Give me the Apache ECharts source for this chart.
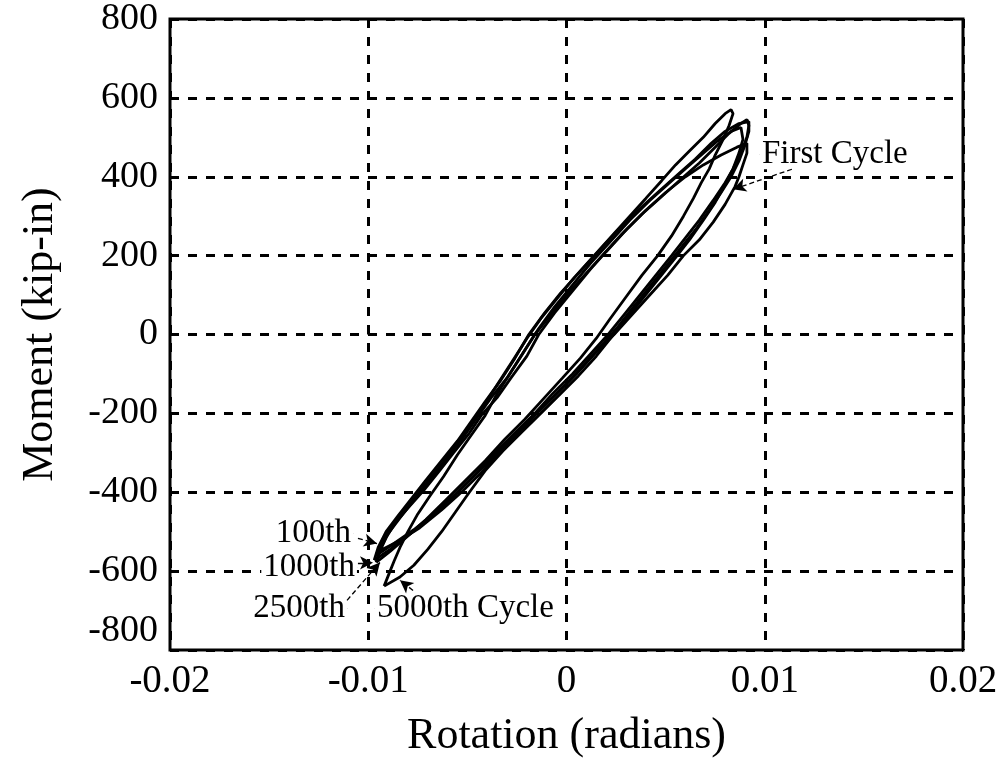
<!DOCTYPE html>
<html>
<head>
<meta charset="utf-8">
<script src="https://cdn.jsdelivr.net/npm/echarts@6/dist/echarts.min.js"></script>
<style>
html,body{margin:0;padding:0;background:#fff;}
#chart{width:1004px;height:763px;}
</style>
</head>
<body>
<div id="chart"></div>
<script>
// Axis ticks
var xTicks = [-0.02, -0.01, 0, 0.01, 0.02];
var yTicks = [-800, -600, -400, -200, 0, 200, 400, 600, 800];

// Hysteresis loops [rotation (rad), moment (kip-in)]
var firstCycle = [
  [-0.0094,-548],[-0.0091,-515],[-0.0086,-475],[-0.0080,-440],[-0.0072,-395],[-0.0064,-345],[-0.0057,-300],
  [-0.0049,-250],[-0.0043,-205],[-0.0035,-160],[-0.0028,-110],[-0.0020,-55],[-0.0014,0],[-0.0006,55],
  [0.0003,110],[0.0012,165],[0.0020,210],[0.0030,265],[0.0040,315],[0.0050,360],[0.0060,400],[0.0069,430],
  [0.0078,455],[0.0086,475],[0.0091,485],
  [0.0091,460],[0.0089,430],[0.0087,400],[0.0085,375],[0.0080,330],[0.0074,285],[0.0067,240],[0.0059,200],
  [0.0051,150],[0.0042,100],[0.0033,50],[0.0024,0],[0.0014,-50],[0.0005,-100],[-0.0005,-150],[-0.0015,-200],
  [-0.0024,-250],[-0.0034,-300],[-0.0043,-350],[-0.0053,-400],[-0.0063,-445],[-0.0074,-490],[-0.0085,-525],
  [-0.0094,-548]
];
var cycle100 = [
  [-0.0096,-560],[-0.0093,-525],[-0.0088,-485],[-0.0082,-450],[-0.0075,-405],[-0.0068,-360],[-0.0060,-310],
  [-0.0052,-260],[-0.0045,-210],[-0.0038,-160],[-0.0030,-110],[-0.0023,-55],[-0.0016,0],[-0.0008,50],
  [0.0000,100],[0.0009,150],[0.0018,200],[0.0028,255],[0.0038,305],[0.0048,350],[0.0058,395],[0.0067,435],
  [0.0075,475],[0.0082,510],[0.0088,535],[0.0091,545],
  [0.0092,530],[0.0091,500],[0.0088,460],[0.0084,420],[0.0080,385],[0.0074,340],[0.0067,290],[0.0060,245],
  [0.0053,200],[0.0045,150],[0.0037,100],[0.0029,50],[0.0021,0],[0.0012,-50],[0.0003,-100],[-0.0007,-150],
  [-0.0016,-200],[-0.0026,-250],[-0.0036,-300],[-0.0046,-355],[-0.0056,-405],[-0.0066,-450],[-0.0077,-495],
  [-0.0087,-530],[-0.0096,-560]
];
var cycle1000 = [
  [-0.0097,-572],[-0.0095,-540],[-0.0091,-500],[-0.0085,-460],[-0.0078,-415],[-0.0071,-370],[-0.0063,-320],
  [-0.0055,-270],[-0.0048,-220],[-0.0041,-170],[-0.0033,-115],[-0.0026,-60],[-0.0019,0],[-0.0011,55],
  [-0.0003,105],[0.0006,155],[0.0015,205],[0.0025,260],[0.0035,310],[0.0046,360],[0.0056,405],[0.0065,445],
  [0.0073,485],[0.0080,515],[0.0087,535],[0.0092,540],
  [0.0092,515],[0.0090,480],[0.0087,440],[0.0083,400],[0.0078,360],[0.0072,315],[0.0065,265],[0.0057,215],
  [0.0049,165],[0.0041,115],[0.0033,65],[0.0026,20],[0.0019,-20],[0.0010,-70],[0.0001,-120],[-0.0009,-170],
  [-0.0018,-215],[-0.0028,-265],[-0.0038,-315],[-0.0048,-365],[-0.0058,-415],[-0.0069,-465],[-0.0080,-510],
  [-0.0089,-545],[-0.0097,-572]
];
var cycle2500 = [
  [-0.0096,-578],[-0.0094,-545],[-0.0090,-505],[-0.0084,-465],[-0.0077,-420],[-0.0070,-375],[-0.0062,-325],
  [-0.0055,-275],[-0.0048,-225],[-0.0041,-175],[-0.0034,-120],[-0.0027,-65],[-0.0020,-10],[-0.0013,40],
  [-0.0005,90],[0.0004,145],[0.0013,195],[0.0022,245],[0.0031,295],[0.0040,345],[0.0048,390],[0.0055,430],
  [0.0062,465],[0.0069,500],[0.0075,535],[0.0080,560],[0.0083,570],
  [0.0084,560],[0.0082,530],[0.0079,495],[0.0075,455],[0.0072,420],[0.0068,385],[0.0064,345],[0.0059,300],
  [0.0053,250],[0.0046,200],[0.0038,150],[0.0030,95],[0.0022,40],[0.0015,-10],[0.0007,-60],[-0.0002,-110],
  [-0.0012,-165],[-0.0021,-215],[-0.0031,-265],[-0.0041,-320],[-0.0051,-370],[-0.0061,-420],[-0.0071,-470],
  [-0.0081,-515],[-0.0089,-550],[-0.0096,-578]
];
var cycle5000 = [
  [-0.0092,-638],[-0.0089,-600],[-0.0087,-575],[-0.0084,-540],[-0.0080,-500],[-0.0075,-455],[-0.0069,-410],
  [-0.0062,-360],[-0.0055,-305],[-0.0048,-255],[-0.0041,-205],[-0.0035,-150],[-0.0028,-95],[-0.0021,-40],
  [-0.0014,15],[-0.0006,70],[0.0003,125],[0.0012,180],[0.0022,235],[0.0032,290],[0.0042,340],[0.0052,385],
  [0.0061,425],[0.0069,460],[0.0076,490],[0.0083,515],[0.0088,525],
  [0.0089,495],[0.0087,460],[0.0084,420],[0.0080,380],[0.0075,335],[0.0069,290],[0.0062,240],[0.0055,195],
  [0.0047,145],[0.0039,95],[0.0031,45],[0.0023,-5],[0.0015,-55],[0.0006,-105],[-0.0003,-150],[-0.0012,-195],
  [-0.0022,-245],[-0.0032,-295],[-0.0041,-345],[-0.0049,-400],[-0.0056,-450],[-0.0063,-500],[-0.0070,-545],
  [-0.0077,-585],[-0.0084,-615],[-0.0092,-638]
];

// Annotations: text, anchor [rotation, moment], alignment
var noteTexts = ['First Cycle', '100th', '1000th', '2500th', '5000th Cycle'];
var noteAnchors = [[0.00976, 457], [-0.01077, -505], [-0.01057, -591], [-0.01107, -694], [-0.00966, -694]];
var noteAligns = ['left', 'right', 'right', 'right', 'left'];
// Arrows: from -> to (head at "to")
var arrowFrom = [[0.01137, 419], [-0.01052, -517], [-0.01052, -579], [-0.01107, -674], [-0.00774, -649]];
var arrowTo = [[0.0084, 368], [-0.00956, -530], [-0.00976, -579], [-0.00941, -578], [-0.0084, -623]];

var FONT = '"Liberation Serif", "Times New Roman", serif';
var chart = echarts.init(document.getElementById('chart'), null, {renderer: 'canvas'});

function loopSeries(name, data) {
  return {
    name: name, type: 'line', data: data, showSymbol: false, symbol: 'none',
    lineStyle: {color: '#000', width: 2.8}, animation: false, z: 3
  };
}

var arrowData = arrowFrom.map(function (f, i) {
  return [{coord: f}, {coord: arrowTo[i]}];
});

var noteData = noteTexts.map(function (t, i) {
  return {name: t, value: noteAnchors[i], label: {align: noteAligns[i]}};
});

var option = {
  animation: false,
  backgroundColor: '#fff',
  grid: {left: 170, right: 41, top: 16, bottom: 113, show: true, borderColor: '#000', borderWidth: 3, containLabel: false},
  xAxis: {
    type: 'value', min: xTicks[0], max: xTicks[xTicks.length - 1], interval: 0.01,
    name: 'Rotation (radians)', nameLocation: 'middle', nameGap: 64,
    nameTextStyle: {fontFamily: FONT, fontSize: 44, color: '#000'},
    axisLine: {show: false},
    axisTick: {show: true, inside: true, length: 8, lineStyle: {color: '#000', width: 3}},
    axisLabel: {fontFamily: FONT, fontSize: 39, color: '#000', margin: 12,
      formatter: function (v) { var r = Math.round(v * 100) / 100; return String(r); }},
    splitLine: {show: true, lineStyle: {color: '#000', width: 3, type: [9, 9]}}
  },
  yAxis: {
    type: 'value', min: yTicks[0], max: yTicks[yTicks.length - 1], interval: 200,
    name: 'Moment (kip-in)', nameLocation: 'middle', nameGap: 108, nameRotate: 90,
    nameTextStyle: {fontFamily: FONT, fontSize: 44, color: '#000'},
    axisLine: {show: false},
    axisTick: {show: true, inside: true, length: 8, lineStyle: {color: '#000', width: 3}},
    axisLabel: {fontFamily: FONT, fontSize: 38, color: '#000', margin: 12, verticalAlignMinLabel: 'bottom'},
    splitLine: {show: true, lineStyle: {color: '#000', width: 3, type: [9, 9]}}
  },
  series: [
    {
      name: 'notes', type: 'scatter', symbolSize: 0.5,
      itemStyle: {color: '#000', opacity: 1},
      data: noteData, silent: true, z: 2,
      label: {show: true, position: 'inside', formatter: '{b}', color: '#000', opacity: 1,
        fontFamily: FONT, fontSize: 33, verticalAlign: 'middle', lineHeight: 30,
        backgroundColor: '#fff', padding: [0, 2]},
      emphasis: {disabled: true},
      markLine: {
        silent: true, symbol: ['none', 'arrow'], symbolSize: [10, 13],
        lineStyle: {color: '#000', width: 1.3, type: [5, 3], opacity: 1},
        label: {show: false},
        data: arrowData
      }
    },
    loopSeries('First Cycle', firstCycle),
    loopSeries('100th', cycle100),
    loopSeries('1000th', cycle1000),
    loopSeries('2500th', cycle2500),
    loopSeries('5000th', cycle5000)
  ]
};
chart.setOption(option);
</script>
</body>
</html>
